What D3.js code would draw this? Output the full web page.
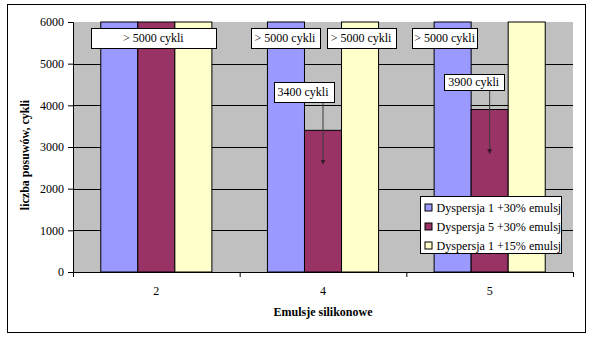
<!DOCTYPE html>
<html><head><meta charset="utf-8">
<script src="https://cdn.jsdelivr.net/npm/d3@7"></script>
<style>body{margin:0;background:#fff}svg{display:block}text{font-family:"Liberation Serif","Times New Roman",serif}</style>
</head><body>
<script>
const categories = ["2", "4", "5"];
const seriesNames = ["Dyspersja 1 +30% emulsji", "Dyspersja 5 +30% emulsji", "Dyspersja 1 +15% emulsji"];
const seriesA = [6000, 6000, 6000];
const seriesB = [6000, 3400, 3900];
const seriesC = [6000, 6000, 6000];
const yTicks = [0, 1000, 2000, 3000, 4000, 5000, 6000];
const colors = ["#9999FF", "#993366", "#FFFFCC"];
// annotations: text, category, series anchor, label value, arrow target value (null = no arrow)
const annText = ["> 5000 cykli", "> 5000 cykli", "> 5000 cykli", "> 5000 cykli", "3400 cykli", "3900 cykli"];
const annCat = ["2", "4", "4", "5", "4", "5"];
const annSeries = [1, 0, 2, 0, 1, 1];
const annValue = [5620, 5620, 5620, 5620, 4330, 4550];
const annArrow = [null, null, null, null, 2600, 2850];

const W = 591, H = 343;
const svg = d3.select("body").append("svg").attr("width", W).attr("height", H);
const plot = {l: 73, r: 573, t: 22, b: 272};

svg.append("rect").attr("x", 7.5).attr("y", 4.5).attr("width", 578).attr("height", 328)
  .attr("fill", "#fff").attr("stroke", "#000").attr("stroke-width", 1);

const x0 = d3.scaleBand().domain(categories).range([plot.l, plot.r]).paddingInner(0).paddingOuter(0);
const bw = x0.bandwidth() / 4.5;
const x1 = d3.scaleBand().domain([0, 1, 2]).range([bw * 0.75, bw * 3.75]);
const y = d3.scaleLinear().domain([0, 6000]).range([plot.b, plot.t]);

svg.append("rect").attr("x", plot.l).attr("y", plot.t).attr("width", plot.r - plot.l).attr("height", plot.b - plot.t)
  .attr("fill", "#C0C0C0");

svg.append("g").selectAll("line").data(yTicks.filter(d => d > 0 && d < 6000)).join("line")
  .attr("x1", plot.l).attr("x2", plot.r).attr("y1", d => Math.round(y(d)) + 0.5).attr("y2", d => Math.round(y(d)) + 0.5)
  .attr("stroke", "#000").attr("stroke-width", 1);

const series = [seriesA, seriesB, seriesC];
const bars = [];
categories.forEach((c, ci) => series.forEach((s, si) => bars.push({c, si, v: s[ci]})));
svg.append("g").selectAll("rect").data(bars).join("rect")
  .attr("x", d => x0(d.c) + x1(d.si))
  .attr("y", d => y(d.v))
  .attr("width", x1.bandwidth())
  .attr("height", d => y(0) - y(d.v))
  .attr("fill", d => colors[d.si]).attr("stroke", "#000").attr("stroke-width", 1);

// axes
const yAxis = d3.axisLeft(y).tickValues(yTicks).tickSize(5).tickPadding(4).tickFormat(d3.format("d"));
const gy = svg.append("g").attr("transform", `translate(${plot.l},0)`).call(yAxis);
gy.selectAll("text").attr("font-size", 12).attr("font-family", "Liberation Serif").attr("fill", "#000");
gy.selectAll("line,path").attr("stroke", "#000");

const gx = svg.append("g").attr("transform", `translate(0,${plot.b})`);
gx.append("line").attr("x1", plot.l).attr("x2", plot.r).attr("y1", 0.5).attr("y2", 0.5).attr("stroke", "#000");
const bounds = categories.map(c => x0(c)).concat([plot.r]);
gx.selectAll("line.t").data(bounds).join("line").attr("class", "t")
  .attr("x1", d => d + 0.5).attr("x2", d => d + 0.5).attr("y1", 0).attr("y2", 5).attr("stroke", "#000");
gx.selectAll("text").data(categories).join("text")
  .attr("x", d => x0(d) + x0.bandwidth() / 2).attr("y", 23)
  .attr("text-anchor", "middle").attr("font-size", 12).text(d => d);

svg.append("text").attr("x", 323).attr("y", 316).attr("text-anchor", "middle")
  .attr("font-size", 12).attr("font-weight", "bold").text("Emulsje silikonowe");
svg.append("text").attr("transform", "translate(29,155) rotate(-90)").attr("text-anchor", "middle")
  .attr("font-size", 12).attr("font-weight", "bold").text("liczba posuwów, cykli");

// annotations
const defs = svg.append("defs");
defs.append("marker").attr("id", "ah").attr("viewBox", "0 0 6 6").attr("refX", 5).attr("refY", 3)
  .attr("markerWidth", 5).attr("markerHeight", 5).attr("orient", "auto")
  .append("path").attr("d", "M0,0L6,3L0,6Z").attr("fill", "#3a1828");

const lineG = svg.append("g");
const annG = svg.append("g");
const boxOffsets = [-3, -1, 1, -8, -20, -16];
annText.forEach((t, i) => {
  const cx = x0(annCat[i]) + x1(annSeries[i]) + x1.bandwidth() / 2;
  const cy = y(annValue[i]);
  const bx = cx + boxOffsets[i];
  const h = i === 5 ? 16 : 20;
  if (annArrow[i] != null) {
    lineG.append("line").attr("x1", cx).attr("x2", cx).attr("y1", cy + h / 2).attr("y2", y(annArrow[i]))
      .attr("stroke", "#3a3a3a").attr("stroke-width", 1).attr("marker-end", "url(#ah)");
  }
  const g = annG.append("g");
  const rect = g.append("rect");
  const txt = g.append("text").attr("x", bx).attr("y", cy + 4).attr("text-anchor", "middle")
    .attr("font-size", 12).text(t);
  const bb = txt.node().getBBox();
  const padX = i === 0 ? 32 : (i === 3 ? 2 : 4);
  rect.attr("x", Math.round(bb.x - padX) + 0.5).attr("y", Math.round(cy - h / 2) + 0.5)
    .attr("width", Math.round(bb.width + 2 * padX)).attr("height", h)
    .attr("fill", "#fff").attr("stroke", "#000");
});

// legend
const lg = svg.append("g").attr("transform", "translate(420.5,196.5)");
lg.append("rect").attr("width", 141).attr("height", 57).attr("fill", "#fff").attr("stroke", "#000");
const clip = defs.append("clipPath").attr("id", "lc");
clip.append("rect").attr("x", 0).attr("y", 0).attr("width", 141).attr("height", 57);
const li = lg.append("g").attr("clip-path", "url(#lc)").selectAll("g").data(seriesNames).join("g")
  .attr("transform", (d, i) => `translate(0,${11 + i * 19})`);
li.append("rect").attr("x", 4.5).attr("y", -3.5).attr("width", 7).attr("height", 7)
  .attr("fill", (d, i) => colors[i]).attr("stroke", "#000");
li.append("text").attr("x", 16).attr("y", 4.5).attr("font-size", 12.1).text(d => d);
lg.append("rect").attr("width", 141).attr("height", 57).attr("fill", "none").attr("stroke", "#000");
</script>
</body></html>
